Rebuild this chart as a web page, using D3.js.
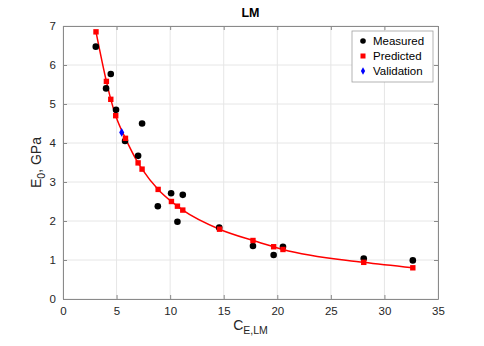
<!DOCTYPE html>
<html>
<head>
<meta charset="utf-8">
<script src="https://cdn.jsdelivr.net/npm/d3@7"></script>
<style>
  body { margin: 0; background: #fff; }
  svg { font-family: "Liberation Sans", Arial, sans-serif; }
</style>
</head>
<body>
<div id="chart"></div>
<script>
// measured points
const measuredX = [3.06, 4.46, 4.02, 4.95, 7.38, 5.79, 7.01, 8.85, 10.09, 11.18, 10.68, 14.58, 17.73, 19.66, 20.53, 28.07, 32.65];
const measuredY = [6.47, 5.77, 5.40, 4.85, 4.50, 4.05, 3.67, 2.38, 2.71, 2.67, 1.98, 1.83, 1.36, 1.13, 1.34, 1.04, 0.99];

// predicted points (model curve passes through them)
const predictedX = [3.08, 4.05, 4.46, 4.92, 5.83, 7.01, 7.38, 8.88, 10.12, 10.68, 11.18, 14.61, 17.73, 19.66, 20.53, 28.07, 32.65];
const predictedY = [6.85, 5.58, 5.12, 4.70, 4.12, 3.49, 3.33, 2.81, 2.50, 2.38, 2.28, 1.79, 1.50, 1.34, 1.27, 0.94, 0.80];

// validation point
const validationX = [5.48];
const validationY = [4.27];

const xTicks = [0, 5, 10, 15, 20, 25, 30, 35];
const yTicks = [0, 1, 2, 3, 4, 5, 6, 7];
const legendLabels = ["Measured", "Predicted", "Validation"];

const W = 484, H = 346;
const margin = { top: 26, right: 46, bottom: 47, left: 63 };
const width = W - margin.left - margin.right;
const height = H - margin.top - margin.bottom;

const svg = d3.select("#chart").append("svg")
    .attr("width", W).attr("height", H);
const g = svg.append("g").attr("transform", `translate(${margin.left},${margin.top})`);

const x = d3.scaleLinear().domain([0, 35]).range([0, width]);
const y = d3.scaleLinear().domain([0, 7]).range([height, 0]);

// grid
g.selectAll(".gx").data(xTicks).join("line")
    .attr("x1", d => x(d)).attr("x2", d => x(d))
    .attr("y1", 0).attr("y2", height)
    .attr("stroke", "#e6e6e6");
g.selectAll(".gy").data(yTicks).join("line")
    .attr("x1", 0).attr("x2", width)
    .attr("y1", d => y(d)).attr("y2", d => y(d))
    .attr("stroke", "#e6e6e6");

// axes (inward ticks, box)
const axisColor = "#8a8a8a";
function styleAxis(sel) {
    sel.select(".domain").attr("stroke", axisColor);
    sel.selectAll(".tick line").attr("stroke", axisColor);
    sel.selectAll(".tick text").attr("fill", "#262626").style("font-size", "11.5px");
}
g.append("g").attr("transform", `translate(0,${height})`)
    .call(d3.axisBottom(x).tickValues(xTicks).tickSize(-4).tickSizeOuter(0).tickPadding(8).tickFormat(d3.format("d")))
    .call(styleAxis);
g.append("g")
    .call(d3.axisLeft(y).tickValues(yTicks).tickSize(-4).tickSizeOuter(0).tickPadding(7).tickFormat(d3.format("d")))
    .call(styleAxis);
g.append("g")
    .call(d3.axisTop(x).tickValues(xTicks).tickSize(-4).tickSizeOuter(0).tickFormat(""))
    .call(styleAxis);
g.append("g").attr("transform", `translate(${width},0)`)
    .call(d3.axisRight(y).tickValues(yTicks).tickSize(-4).tickSizeOuter(0).tickFormat(""))
    .call(styleAxis);

// fitted curve through predicted points
const curvePts = predictedX.map((v, i) => [v, predictedY[i]]).sort((a, b) => a[0] - b[0]);
g.append("path")
    .datum(curvePts)
    .attr("fill", "none")
    .attr("stroke", "#ff0000")
    .attr("stroke-width", 1.5)
    .attr("d", d3.line().x(d => x(d[0])).y(d => y(d[1])).curve(d3.curveMonotoneX));

// measured
g.selectAll(".m").data(measuredX).join("circle")
    .attr("cx", d => x(d)).attr("cy", (d, i) => y(measuredY[i]))
    .attr("r", 3.3).attr("fill", "#000");

// predicted
g.selectAll(".p").data(predictedX).join("rect")
    .attr("x", d => x(d) - 2.7).attr("y", (d, i) => y(predictedY[i]) - 2.7)
    .attr("width", 5.4).attr("height", 5.4).attr("fill", "#ff0000");

// validation
const diamond = d3.symbol().type(d3.symbolDiamond).size(22);
g.selectAll(".v").data(validationX).join("path")
    .attr("d", diamond)
    .attr("transform", (d, i) => `translate(${x(d)},${y(validationY[i])})`)
    .attr("fill", "#0000ff");

// legend
const lg = svg.append("g").attr("transform", "translate(352,31)");
lg.append("rect").attr("width", 81).attr("height", 51)
    .attr("fill", "#fff").attr("stroke", "#a0a0a0").attr("stroke-width", 0.8);
legendLabels.forEach((lab, i) => {
    const cy = 10 + i * 15;
    if (i === 0) lg.append("circle").attr("cx", 11).attr("cy", cy).attr("r", 2.8).attr("fill", "#000");
    if (i === 1) lg.append("rect").attr("x", 8.5).attr("y", cy - 2.5).attr("width", 5).attr("height", 5).attr("fill", "#ff0000");
    if (i === 2) lg.append("path").attr("d", d3.symbol().type(d3.symbolDiamond).size(16))
        .attr("transform", `translate(11,${cy})`).attr("fill", "#0000ff");
    lg.append("text").attr("x", 21).attr("y", cy + 4).text(lab)
        .style("font-size", "11.5px").attr("fill", "#000");
});

// title
svg.append("text").attr("x", margin.left + width / 2).attr("y", 17)
    .attr("text-anchor", "middle").style("font-size", "12.5px").style("font-weight", "bold")
    .attr("fill", "#000").text("LM");

// x label C_{E,LM}
const xl = svg.append("text").attr("x", margin.left + width / 2).attr("y", 330)
    .attr("text-anchor", "middle").style("font-size", "14px").attr("fill", "#262626");
xl.append("tspan").text("C");
xl.append("tspan").attr("dy", 4).style("font-size", "10.5px").text("E,LM");

// y label E_0, GPa
const yl = svg.append("text")
    .attr("transform", `translate(41,${margin.top + height / 2}) rotate(-90)`)
    .attr("text-anchor", "middle").style("font-size", "14px").attr("fill", "#262626");
yl.append("tspan").text("E");
yl.append("tspan").attr("dy", 4).style("font-size", "10.5px").text("0");
yl.append("tspan").attr("dy", -4).text(", GPa");
</script>
</body>
</html>
